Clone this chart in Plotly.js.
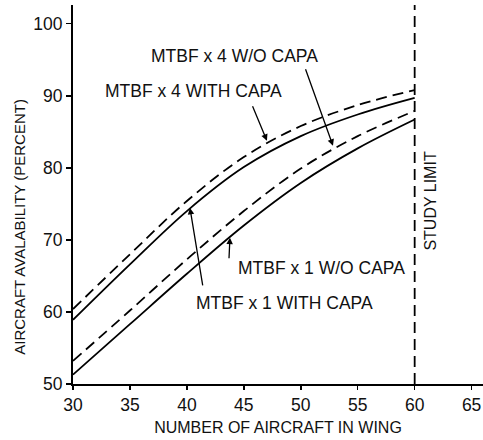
<!DOCTYPE html>
<html>
<head>
<meta charset="utf-8">
<script src="https://cdn.plot.ly/plotly-3.0.1.min.js"></script>
<style>html,body{margin:0;padding:0;background:#fff;}#chart{width:483px;height:440px;}</style>
</head>
<body>
<div id="chart"></div>
<script>
const aircraft = [30, 35, 40, 45, 50, 55, 60];
const mtbf4WithoutCapa = [60.4, 68.0, 75.4, 81.5, 85.8, 88.7, 90.8];
const mtbf4WithCapa    = [58.9, 66.6, 74.0, 80.1, 84.4, 87.4, 89.7];
const mtbf1WithoutCapa = [53.2, 60.2, 67.3, 74.0, 79.9, 84.4, 87.9];
const mtbf1WithCapa    = [51.3, 58.3, 65.3, 72.0, 77.9, 82.7, 86.7];
const studyLimit = 60;
const xTicks = [30, 35, 40, 45, 50, 55, 60, 65];
const yTicks = [50, 60, 70, 80, 90, 100];

const FONT = 'Liberation Sans, Arial, sans-serif';
const solid = {color: '#000', width: 1.8, shape: 'spline'};
const dashed = {color: '#000', width: 1.8, shape: 'spline', dash: '11px,6px'};

const traces = [
  {x: aircraft, y: mtbf4WithoutCapa, mode: 'lines', line: dashed, name: 'MTBF x 4 W/O CAPA'},
  {x: aircraft, y: mtbf4WithCapa, mode: 'lines', line: solid, name: 'MTBF x 4 WITH CAPA'},
  {x: aircraft, y: mtbf1WithoutCapa, mode: 'lines', line: dashed, name: 'MTBF x 1 W/O CAPA'},
  {x: aircraft, y: mtbf1WithCapa, mode: 'lines', line: solid, name: 'MTBF x 1 WITH CAPA'}
];

const labelFont = {family: FONT, size: 17.5, color: '#111'};
const lab = (x, y, text) => ({xref: 'paper', yref: 'paper', x: x, y: y, xanchor: 'center', yanchor: 'middle', text: text, showarrow: false, font: labelFont});
const arrow = (x, y, ax, ay) => ({x: x, y: y, ax: ax, ay: ay, text: '', showarrow: true, arrowhead: 2, arrowsize: 1, arrowwidth: 1.3, arrowcolor: '#000'});
const annotations = [
  lab(0.395, 0.865, 'MTBF x 4 W/O CAPA'),
  lab(0.295, 0.773, 'MTBF x 4 WITH CAPA'),
  lab(0.605, 0.306, 'MTBF x 1 W/O CAPA'),
  lab(0.515, 0.214, 'MTBF x 1 WITH CAPA'),
  arrow(52.83, 83.06, -28, -78),
  arrow(47.03, 83.75, -15, -36),
  arrow(43.78, 70.3, -1, 22),
  arrow(40.27, 74.44, 13, 79),
  {x: studyLimit, xref: 'x', yref: 'paper', y: 0.483, xshift: 16, xanchor: 'center', yanchor: 'middle',
   text: 'STUDY LIMIT', textangle: -90, showarrow: false, font: {family: FONT, size: 16, color: '#111'}},
  {xref: 'paper', yref: 'paper', x: 0, xshift: -53, y: 0.415, xanchor: 'center', yanchor: 'middle',
   text: 'AIRCRAFT AVALABILITY (PERCENT)', textangle: -90, showarrow: false, font: {family: FONT, size: 15, color: '#111'}}
];

const layout = {
  width: 483, height: 440,
  margin: {l: 73, r: 0, t: 5, b: 56},
  paper_bgcolor: '#fff', plot_bgcolor: '#fff',
  showlegend: false,
  font: {family: FONT, size: 16, color: '#111'},
  xaxis: {
    range: [30, 66], tickvals: xTicks, ticktext: xTicks.map(String),
    showgrid: false, zeroline: false, showline: true, linecolor: '#000', linewidth: 2,
    ticks: 'outside', ticklen: 4, tickwidth: 1.5, tickcolor: '#000',
    tickfont: {family: FONT, size: 17.5, color: '#111'},
    title: {text: 'NUMBER OF AIRCRAFT IN WING', font: {family: FONT, size: 16, color: '#111'}, standoff: 8}
  },
  yaxis: {
    range: [50, 102.6], tickvals: yTicks, ticktext: yTicks.map(String),
    showgrid: false, zeroline: false, showline: true, linecolor: '#000', linewidth: 2,
    ticks: 'outside', ticklen: 5, tickwidth: 1.5, tickcolor: '#000',
    tickfont: {family: FONT, size: 17.5, color: '#111'}
  },
  shapes: [
    {type: 'line', xref: 'x', yref: 'paper', x0: studyLimit, x1: studyLimit, y0: 0, y1: 1,
     line: {color: '#000', width: 1.8, dash: '11px,6px'}}
  ],
  annotations: annotations
};

Plotly.newPlot('chart', traces, layout, {staticPlot: true, displayModeBar: false});
</script>
</body>
</html>
